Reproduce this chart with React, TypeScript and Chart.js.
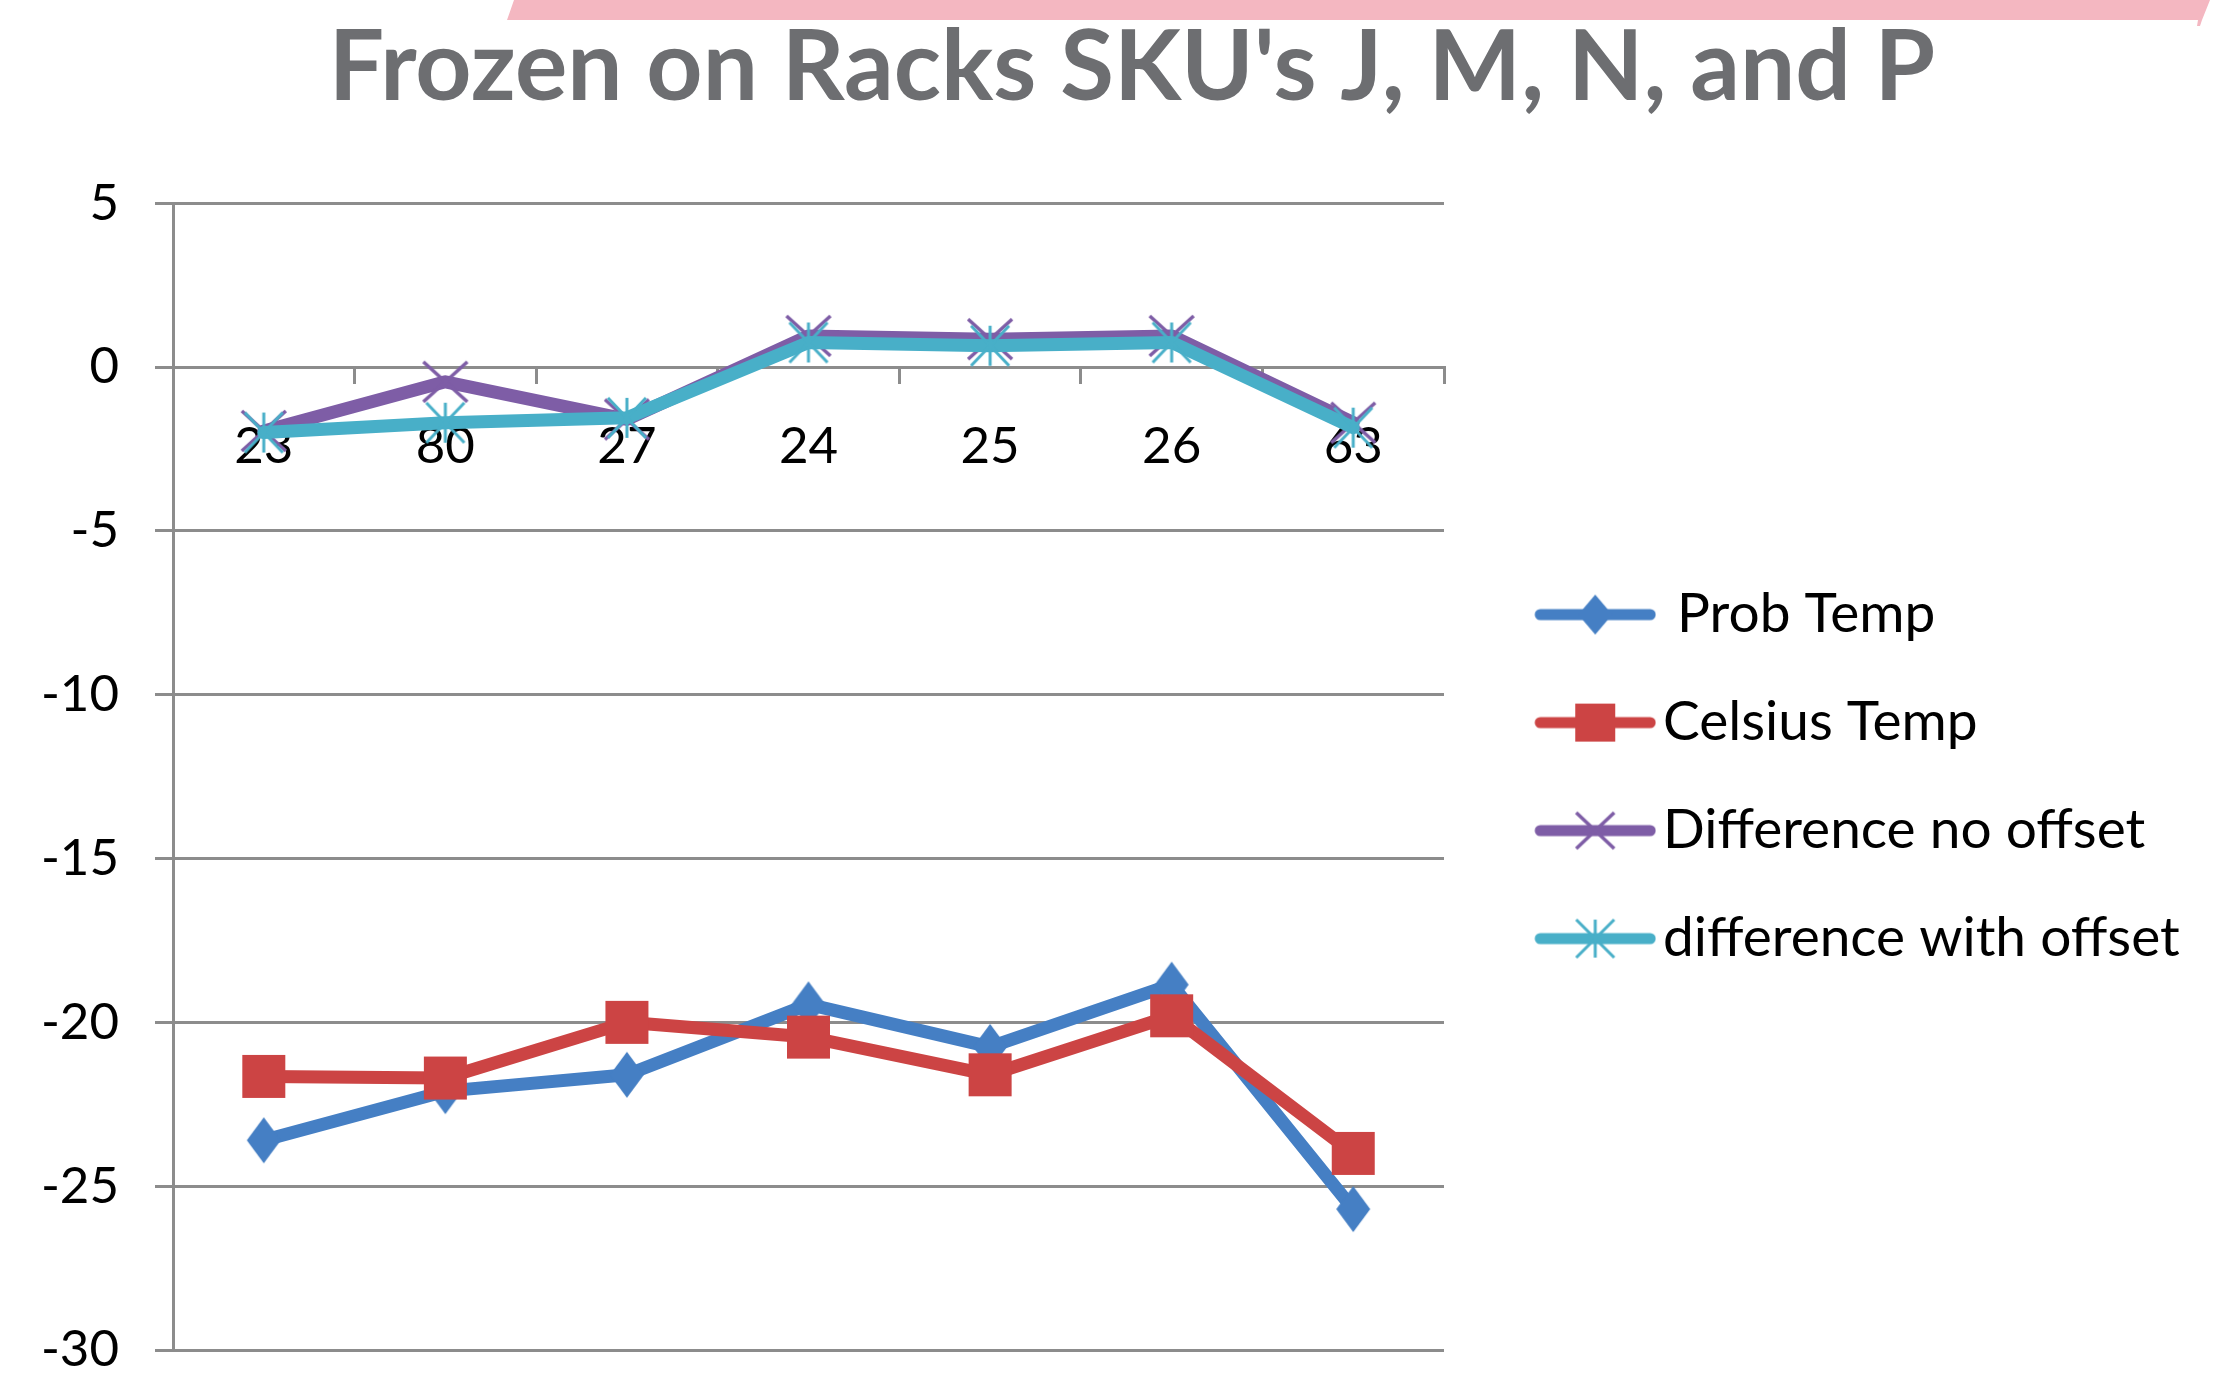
import React, { useEffect, useRef } from "react";
import { Chart, registerables } from "chart.js";

Chart.register(...registerables);

// ---- data ----
const categories = ["23", "80", "27", "24", "25", "26", "63"];
const probTemp = [-23.6, -22.1, -21.6, -19.45, -20.75, -18.85, -25.7];
const celsiusTemp = [-21.65, -21.7, -20.0, -20.45, -21.6, -19.8, -24.0];
const diffNoOffset = [-1.95, -0.45, -1.6, 0.95, 0.85, 0.95, -1.7];
const diffWithOffset = [-2.0, -1.7, -1.55, 0.75, 0.65, 0.75, -1.85];
const seriesNames = [" Prob Temp", "Celsius Temp", "Difference no offset", "difference with offset"];
const yMin = -30;
const yMax = 5;
const yStep = 5;
const yTickLabels = ["5", "0", "-5", "-10", "-15", "-20", "-25", "-30"];
const titleText = "Frozen on Racks SKU's J, M, N, and P";

// ---- styles ----
const W = 2238;
const H = 1375;
const COLORS = ["#457fc4", "#cc4444", "#7e5da6", "#48afc8"];
const MARKERS = ["diamond", "square", "x", "star"];
const GRID = "#8c8c8c";
const TITLE_COLOR = "#6d6e71";
const PINK = "#f4b7c1";
const LEGEND_FONT = 55;
const LEGEND_PAD = 53;
const LEGEND_TEXT_X = 1663;
const CHART_RIGHT = 1444;
const LEGEND_BOX = LEGEND_TEXT_X - CHART_RIGHT - LEGEND_PAD - LEGEND_FONT / 2;
const AXIS_X = 173;
const YLABEL_RIGHT = 119;
const TITLE_SHIFT = 26;
const TICK_FONT = 51;
const LINE_W = 13;

// marker geometry: [halfWidth, halfHeight]
const CHART_MARKER_SIZE: Record<string, [number, number]> = {
  diamond: [17, 23],
  square: [21.5, 21.5],
  x: [22, 20],
  star: [19, 20],
};
const LEGEND_MARKER_SIZE: Record<string, [number, number]> = {
  diamond: [17, 20],
  square: [20, 19],
  x: [19, 18],
  star: [19, 19],
};

function drawMarker(
  ctx: CanvasRenderingContext2D,
  kind: string,
  cx: number,
  cy: number,
  color: string,
  size: [number, number]
) {
  const [hw, hh] = size;
  ctx.fillStyle = color;
  ctx.strokeStyle = color;
  ctx.lineCap = "butt";
  if (kind === "diamond") {
    ctx.beginPath();
    ctx.moveTo(cx, cy - hh);
    ctx.lineTo(cx + hw, cy);
    ctx.lineTo(cx, cy + hh);
    ctx.lineTo(cx - hw, cy);
    ctx.closePath();
    ctx.fill();
  } else if (kind === "square") {
    ctx.fillRect(cx - hw, cy - hh, hw * 2, hh * 2);
  } else if (kind === "x") {
    ctx.lineWidth = 3.5;
    ctx.beginPath();
    ctx.moveTo(cx - hw, cy - hh);
    ctx.lineTo(cx + hw, cy + hh);
    ctx.moveTo(cx + hw, cy - hh);
    ctx.lineTo(cx - hw, cy + hh);
    ctx.stroke();
  } else {
    ctx.lineWidth = 3;
    ctx.beginPath();
    ctx.moveTo(cx - hw, cy - hh);
    ctx.lineTo(cx + hw, cy + hh);
    ctx.moveTo(cx + hw, cy - hh);
    ctx.lineTo(cx - hw, cy + hh);
    ctx.moveTo(cx, cy - hh);
    ctx.lineTo(cx, cy + hh);
    ctx.stroke();
  }
}

function makePointImage(color: string, kind: string): HTMLCanvasElement {
  const [hw, hh] = CHART_MARKER_SIZE[kind];
  const c = document.createElement("canvas");
  c.width = Math.ceil(hw * 2 + 6);
  c.height = Math.ceil(hh * 2 + 6);
  const ctx = c.getContext("2d")!;
  drawMarker(ctx, kind, c.width / 2, c.height / 2, color, [hw, hh]);
  return c;
}

function makeIcon(color: string, kind: string): HTMLCanvasElement {
  const visible = 122;
  const imgW = Math.round(LEGEND_BOX + 2 * (LEGEND_FONT / 2 - 7));
  const imgH = 48;
  const c = document.createElement("canvas");
  c.width = imgW;
  c.height = imgH;
  const ctx = c.getContext("2d")!;
  const x0 = imgW - visible;
  const cy = imgH / 2;
  ctx.strokeStyle = color;
  ctx.lineWidth = 11;
  ctx.lineCap = "round";
  ctx.beginPath();
  ctx.moveTo(x0 + 6, cy);
  ctx.lineTo(imgW - 6, cy);
  ctx.stroke();
  drawMarker(ctx, kind, x0 + visible / 2, cy, color, LEGEND_MARKER_SIZE[kind]);
  return c;
}

export default function App() {
  const ref = useRef<HTMLCanvasElement>(null);

  useEffect(() => {
    const canvas = ref.current!;
    const mctx = canvas.getContext("2d")!;
    mctx.font = `${LEGEND_FONT}px Lato`;
    let textW = 0;
    seriesNames.forEach((n) => {
      textW = Math.max(textW, mctx.measureText(n).width);
    });
    mctx.font = `${TICK_FONT}px Lato`;
    let widest = 0;
    yTickLabels.forEach((t) => {
      widest = Math.max(widest, mctx.measureText(t).width);
    });
    const legendWidth = LEGEND_PAD + LEGEND_BOX + LEGEND_FONT / 2 + textW + 10;
    const padR = W - CHART_RIGHT - legendWidth;
    const padL = padR + TITLE_SHIFT;

    const icons = COLORS.map((c, i) => makeIcon(c, MARKERS[i]));
    const pointImages = COLORS.map((c, i) => makePointImage(c, MARKERS[i]));
    const seriesData = [probTemp, celsiusTemp, diffNoOffset, diffWithOffset];
    const orders = [4, 3, 2, 1];

    const chart = new Chart(canvas, {
      type: "line",
      data: {
        labels: categories,
        datasets: seriesData.map((d, i) => ({
          label: seriesNames[i],
          data: d,
          borderColor: COLORS[i],
          backgroundColor: COLORS[i],
          borderWidth: LINE_W,
          borderJoinStyle: "round",
          borderCapStyle: "round",
          tension: 0,
          pointStyle: pointImages[i],
          pointRadius: 22,
          pointHoverRadius: 22,
          pointBorderWidth: 0,
          pointBackgroundColor: COLORS[i],
          pointBorderColor: COLORS[i],
          order: orders[i],
          clip: false,
        })) as any,
      },
      options: {
        responsive: false,
        animation: false,
        layout: { autoPadding: false, padding: { left: padL, right: padR, top: 0, bottom: 25 } },
        plugins: {
          title: {
            display: true,
            text: titleText,
            color: TITLE_COLOR,
            font: { family: "Lato", weight: "bold", size: 98, lineHeight: 1.2 },
            padding: { top: 10, bottom: 75.6 },
          },
          legend: {
            position: "right",
            fullSize: false,
            align: "center",
            maxWidth: 1200,
            labels: {
              usePointStyle: true,
              pointStyleWidth: LEGEND_BOX,
              padding: LEGEND_PAD,
              color: "#000",
              font: { family: "Lato", size: LEGEND_FONT },
              generateLabels: () =>
                seriesNames.map((name, i) => ({
                  text: name,
                  fillStyle: COLORS[i],
                  strokeStyle: COLORS[i],
                  lineWidth: 0,
                  pointStyle: icons[i] as any,
                  hidden: false,
                  datasetIndex: i,
                  fontColor: "#000",
                })),
            },
          },
          tooltip: { enabled: false },
        },
        scales: {
          x: {
            type: "category",
            position: { y: 0 } as any,
            offset: true,
            grid: {
              display: true,
              drawOnChartArea: false,
              drawTicks: true,
              tickLength: 15,
              offset: true,
              color: GRID,
              lineWidth: 3,
            },
            border: { display: true, color: GRID, width: 3 },
            ticks: {
              color: "#000",
              padding: 34,
              maxRotation: 0,
              autoSkip: false,
              font: { family: "Lato", size: TICK_FONT, lineHeight: 1.2 },
            },
          },
          y: {
            type: "linear",
            min: yMin,
            max: yMax,
            grid: { color: GRID, lineWidth: 3, tickLength: 18, drawTicks: true },
            border: { display: true, color: GRID, width: 3 },
            ticks: {
              stepSize: yStep,
              color: "#000",
              mirror: true,
              crossAlign: "far",
              padding: YLABEL_RIGHT - AXIS_X - widest,
              font: { family: "Lato", size: TICK_FONT, lineHeight: 0.5 },
              callback: (v: any) => String(v),
            },
            afterFit: (scale: any) => {
              scale.width = AXIS_X - padL;
              scale.paddingTop = 0;
              scale.paddingBottom = 0;
            },
          },
        },
      },
    });
    return () => chart.destroy();
  }, []);

  return (
    <div style={{ position: "fixed", left: 0, top: 0, width: W, height: H, background: "#fff" }}>
      <div
        style={{
          position: "absolute",
          left: 0,
          top: 0,
          width: W,
          height: 26,
          background: PINK,
          clipPath: "polygon(514px 0, 2210px 0, 2202px 20px, 2200px 26px, 2197px 26px, 2198px 20px, 507px 20px)",
        }}
      />
      <canvas
        ref={ref}
        width={W}
        height={H}
        style={{ position: "absolute", left: 0, top: 0, width: W, height: H }}
      />
    </div>
  );
}
